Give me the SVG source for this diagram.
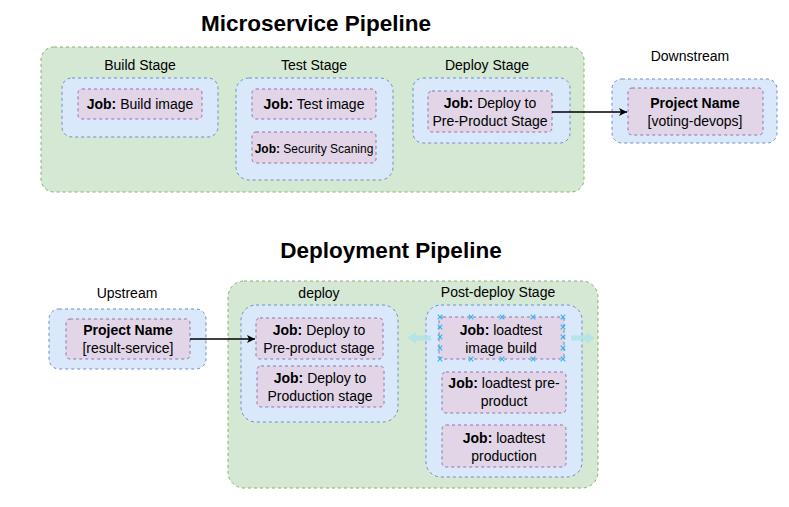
<svg xmlns="http://www.w3.org/2000/svg" width="789" height="507" viewBox="0 0 789 507">
<style>
text{font-family:"Liberation Sans",Arial,sans-serif;fill:#000;}
.t{font-size:22.5px;font-weight:bold;text-anchor:middle;}
.l{font-size:14px;text-anchor:middle;}
.b{font-weight:bold;}
.g{fill:#d5e8d4;stroke:#82b366;stroke-dasharray:3 3;}
.u{fill:#dae8fc;stroke:#6c8ebf;stroke-dasharray:3 3;}
.p{fill:#e1d5e7;stroke:#9673a6;stroke-dasharray:3 3;}
.c{stroke:#000;stroke-width:1.3;fill:none;}
.h{stroke:#29b6f2;stroke-width:1.1;fill:none;}
.ha{fill:#b0e3e6;opacity:0.85;}
</style>
<defs>
<marker id="arr" markerWidth="10" markerHeight="10" refX="9" refY="5" orient="auto" markerUnits="userSpaceOnUse">
<path d="M1,1 L9,5 L1,9 L3,5 Z" fill="#000"/>
</marker>
<path id="xm" d="M-2.3,-2.3 L2.3,2.3 M-2.3,2.3 L2.3,-2.3"/>
</defs>
<rect width="789" height="507" fill="#fff"/>

<text class="t" x="316" y="31">Microservice Pipeline</text>
<text class="t" x="391" y="258">Deployment Pipeline</text>

<g id="microservice-pipeline">
<rect class="g" x="41" y="47" width="543" height="145" rx="13"/>
</g>
<g id="build-stage">
<text class="l" x="140" y="70">Build Stage</text>
<rect class="u" x="62" y="78" width="156" height="59" rx="10"/>
</g>
<g id="job-build-image">
<rect class="p" x="78" y="89" width="124" height="30" rx="4"/>
<text class="l" x="140" y="109"><tspan class="b">Job:</tspan> Build image</text>
</g>
<g id="test-stage">
<text class="l" x="314" y="70">Test Stage</text>
<rect class="u" x="236" y="78" width="157" height="102" rx="13"/>
</g>
<g id="job-test-image">
<rect class="p" x="252" y="89" width="124" height="30" rx="4"/>
<text class="l" x="314" y="109"><tspan class="b">Job:</tspan> Test image</text>
</g>
<g id="job-security">
<rect class="p" x="252" y="132" width="124" height="31" rx="4"/>
<text class="l" x="314" y="153" style="font-size:12px"><tspan class="b">Job:</tspan> Security Scaning</text>
</g>
<g id="deploy-stage">
<text class="l" x="487" y="70">Deploy Stage</text>
<rect class="u" x="413" y="78" width="157" height="65" rx="10"/>
</g>
<g id="job-deploy-preproduct">
<rect class="p" x="428" y="91" width="124" height="41" rx="4"/>
<text class="l" x="490" y="108"><tspan class="b">Job:</tspan> Deploy to</text>
<text class="l" x="490" y="126">Pre-Product Stage</text>
</g>
<g id="downstream">
<text class="l" x="690" y="61">Downstream</text>
<rect class="u" x="612" y="79" width="165" height="64" rx="10"/>
<rect class="p" x="628" y="88" width="135" height="47" rx="4"/>
<text class="l b" x="695" y="108">Project Name</text>
<text class="l" x="695" y="126">[voting-devops]</text>
</g>

<g id="upstream">
<text class="l" x="127" y="298">Upstream</text>
<rect class="u" x="49" y="309" width="157" height="60" rx="10"/>
<rect class="p" x="66" y="319" width="124" height="40" rx="4"/>
<text class="l b" x="128" y="335">Project Name</text>
<text class="l" x="128" y="353">[result-service]</text>
</g>
<g id="deployment-pipeline">
<rect class="g" x="228" y="281" width="370" height="207" rx="16"/>
</g>
<g id="deploy">
<text class="l" x="319" y="298">deploy</text>
<rect class="u" x="241" y="305" width="157" height="117" rx="15"/>
</g>
<g id="job-deploy-preproduct-stage">
<rect class="p" x="256" y="318" width="127" height="41" rx="4"/>
<text class="l" x="319" y="335"><tspan class="b">Job:</tspan> Deploy to</text>
<text class="l" x="319" y="353">Pre-product stage</text>
</g>
<g id="job-deploy-production-stage">
<rect class="p" x="257" y="366" width="127" height="41" rx="4"/>
<text class="l" x="320" y="383"><tspan class="b">Job:</tspan> Deploy to</text>
<text class="l" x="320" y="401">Production stage</text>
</g>
<g id="post-deploy-stage">
<text class="l" x="498" y="297">Post-deploy Stage</text>
<rect class="u" x="426" y="305" width="156" height="172" rx="15"/>
</g>
<g id="job-loadtest-image-build">
<rect class="p" x="439" y="317" width="125" height="42" rx="4"/>
<text class="l" x="501" y="335"><tspan class="b">Job:</tspan> loadtest</text>
<text class="l" x="501" y="353">image build</text>
</g>
<g id="job-loadtest-preproduct">
<rect class="p" x="442" y="372" width="124" height="41" rx="4"/>
<text class="l" x="504" y="388"><tspan class="b">Job:</tspan> loadtest pre-</text>
<text class="l" x="504" y="406">product</text>
</g>
<g id="job-loadtest-production">
<rect class="p" x="442" y="425" width="124" height="42" rx="4"/>
<text class="l" x="504" y="443"><tspan class="b">Job:</tspan> loadtest</text>
<text class="l" x="504" y="461">production</text>
</g>

<g id="connectors">
<line class="c" x1="552" y1="112" x2="627" y2="112" marker-end="url(#arr)"/>
<line class="c" x1="190" y1="339" x2="255" y2="339" marker-end="url(#arr)"/>
</g>

<g id="selection-handles">
<path class="ha" d="M407,338 L416,332 L416,335.5 L431,335.5 L431,340.5 L416,340.5 L416,344 Z"/>
<path class="ha" d="M595,338 L586,332 L586,335.5 L571,335.5 L571,340.5 L586,340.5 L586,344 Z"/>
<g class="h">
<use href="#xm" x="440" y="317"/><use href="#xm" x="471" y="317"/><use href="#xm" x="502" y="317"/><use href="#xm" x="533" y="317"/><use href="#xm" x="563" y="317"/>
<use href="#xm" x="440" y="359"/><use href="#xm" x="471" y="359"/><use href="#xm" x="502" y="359"/><use href="#xm" x="533" y="359"/><use href="#xm" x="563" y="359"/>
<use href="#xm" x="440" y="327"/><use href="#xm" x="440" y="337"/><use href="#xm" x="440" y="348"/>
<use href="#xm" x="563" y="327"/><use href="#xm" x="563" y="337"/><use href="#xm" x="563" y="348"/>
</g>
</g>
</svg>
